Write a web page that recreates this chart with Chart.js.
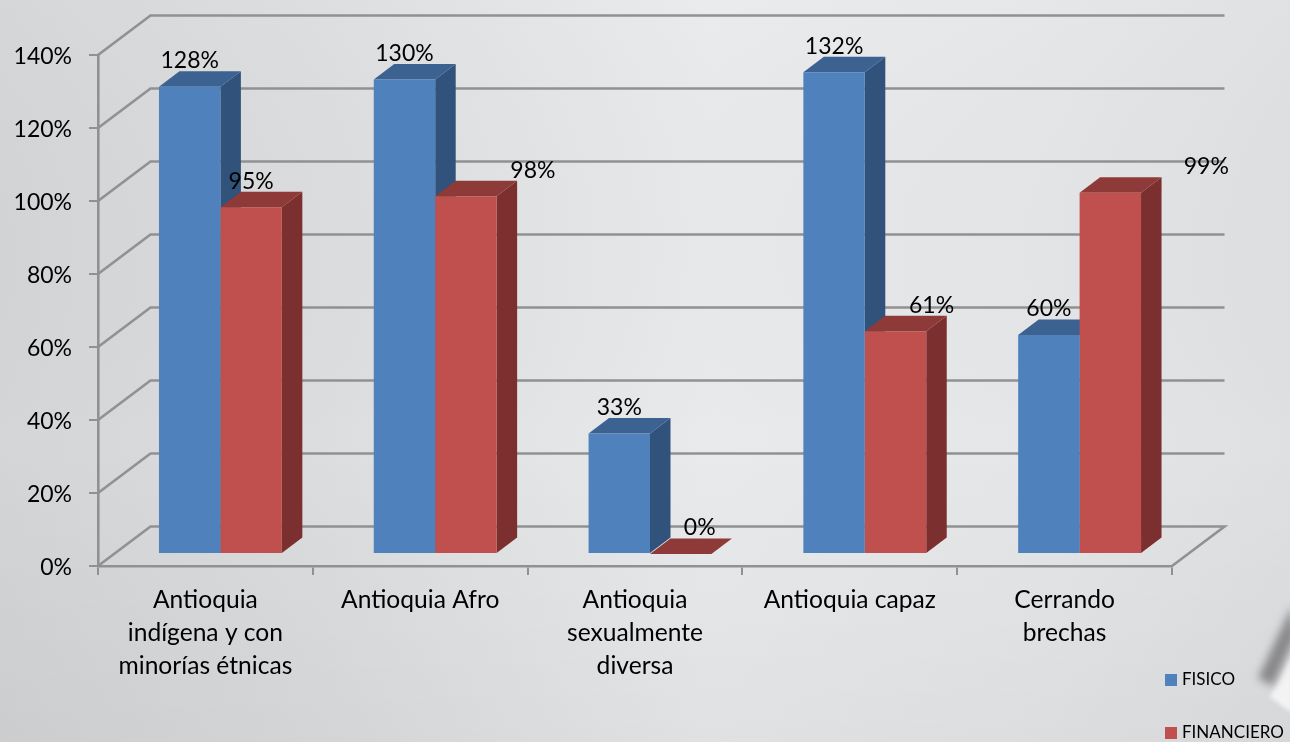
<!DOCTYPE html>
<html><head><meta charset="utf-8">
<style>
html,body{margin:0;padding:0;width:1290px;height:742px;overflow:hidden;background:#dcddde}
#w{position:relative;width:1290px;height:742px}
canvas{display:block}
</style>
<script src="https://cdn.jsdelivr.net/npm/chart.js@4"></script>
</head><body><div id="w"><canvas id="c" width="1290" height="742"></canvas></div>
<script>
const categories = [["Antioquia","indígena y con","minorías étnicas"],"Antioquia Afro",["Antioquia","sexualmente","diversa"],"Antioquia capaz",["Cerrando","brechas"]];
const fisico = [128,130,33,132,60];
const financiero = [95,98,0,61,99];
const yTicks = [0,20,40,60,80,100,120,140];
const seriesNames = ["FISICO","FINANCIERO"];

const FONT = 'Lato, Carlito, sans-serif';
const BLUE = {front:'#4f81bd',top:'#3c6291',side:'#31527a'};
const RED = {front:'#c0504d',top:'#8e3a38',side:'#7b2f2e'};
const GRID = '#909193';
const WALL = {x:52.5,y:-39.5};
const BARSHIFT = {x:15,y:-12};
const DEPTH = {x:20.5,y:-15.5};
const NUDGE = [[0,0,0,0,0],[0,67,19,36,96]];

function poly(ctx,pts,fill){ctx.beginPath();pts.forEach((p,i)=>i?ctx.lineTo(p[0],p[1]):ctx.moveTo(p[0],p[1]));ctx.closePath();ctx.fillStyle=fill;ctx.fill();}

const scene = {
  id:'scene',
  beforeDraw(chart){
    const {ctx,width:W,height:H}=chart;
    ctx.save();
    let g=ctx.createLinearGradient(0,0,W,0);
    g.addColorStop(0,'#d4d5d7');g.addColorStop(.25,'#dcddde');g.addColorStop(.55,'#e9eaeb');g.addColorStop(.8,'#e5e6e8');g.addColorStop(1,'#dfe0e2');
    ctx.fillStyle=g;ctx.fillRect(0,0,W,H);
    g=ctx.createLinearGradient(0,0,0,H);
    g.addColorStop(0,'rgba(255,255,255,0.04)');g.addColorStop(.6,'rgba(0,0,0,0)');g.addColorStop(1,'rgba(0,0,0,0.04)');
    ctx.fillStyle=g;ctx.fillRect(0,0,W,H);
    ctx.filter='blur(2px)';
    poly(ctx,[[1270,697],[1292,652],[1292,713]],'rgba(244,244,245,0.95)');
    ctx.filter='blur(4px)';
    poly(ctx,[[1258,678],[1273,686],[1296,636],[1292,606]],'rgba(128,128,130,0.9)');
    ctx.restore();
  },
  beforeDatasetsDraw(chart){
    const {ctx,scales:{x,y}}=chart;
    const L=x.left,R=x.right;
    ctx.save();
    ctx.strokeStyle=GRID;ctx.lineWidth=2.6;ctx.lineJoin='miter';
    yTicks.forEach(v=>{
      const p=y.getPixelForValue(v);
      ctx.beginPath();ctx.moveTo(L,p);ctx.lineTo(L+WALL.x,p+WALL.y);ctx.lineTo(R+WALL.x,p+WALL.y);
      if(v===0){ctx.lineTo(R,p);}
      ctx.stroke();
    });
    [[0,BLUE],[1,RED]].forEach(([ds,col])=>{
      chart.getDatasetMeta(ds).data.forEach(b=>{
        const l=b.x-b.width/2+BARSHIFT.x,r=b.x+b.width/2+BARSHIFT.x,t=b.y+BARSHIFT.y,bt=b.base+BARSHIFT.y;
        poly(ctx,[[r,t],[r+DEPTH.x,t+DEPTH.y],[r+DEPTH.x,bt+DEPTH.y],[r,bt]],col.side);
        poly(ctx,[[l,t],[l+DEPTH.x,t+DEPTH.y],[r+DEPTH.x,t+DEPTH.y],[r,t]],col.top);
      });
    });
    ctx.restore();
    ctx.save();
    ctx.translate(BARSHIFT.x,BARSHIFT.y);
  },
  afterDatasetsDraw(chart){
    const {ctx}=chart;
    ctx.restore();
    ctx.save();
    ctx.font='23px '+FONT;ctx.fillStyle='#000';ctx.textAlign='center';ctx.textBaseline='middle';
    chart.data.datasets.forEach((d,ds)=>{
      chart.getDatasetMeta(ds).data.forEach((b,i)=>{
        ctx.fillText(d.data[i]+'%',b.x+BARSHIFT.x+NUDGE[ds][i],b.y+BARSHIFT.y-26);
      });
    });
    ctx.font='17px '+FONT;ctx.textAlign='left';
    [[680,BLUE],[733,RED]].forEach(([cy,col],i)=>{
      ctx.fillStyle=col.front;ctx.fillRect(1165,cy-6,12,12);
      ctx.fillStyle='#000';ctx.fillText(seriesNames[i],1182,cy);
    });
    ctx.restore();
  }
};

new Chart(document.getElementById('c'),{
  type:'bar',
  data:{labels:categories,datasets:[
    {label:seriesNames[0],data:fisico,backgroundColor:BLUE.front,borderWidth:0,clip:false},
    {label:seriesNames[1],data:financiero,backgroundColor:RED.front,borderWidth:0,clip:false}
  ]},
  plugins:[scene],
  options:{
    responsive:false,animation:false,
    layout:{padding:{top:55,right:118,left:0,bottom:0}},
    datasets:{bar:{categoryPercentage:0.572,barPercentage:1}},
    plugins:{legend:{display:false},tooltip:{enabled:false},title:{display:false}},
    scales:{
      x:{
        afterFit(s){s.height=176;},
        grid:{drawOnChartArea:false,drawTicks:true,tickLength:9,color:GRID,lineWidth:2},
        border:{color:GRID,width:2.6},
        ticks:{color:'#000',font:{family:FONT,size:24.6,lineHeight:1.34},padding:9,maxRotation:0,minRotation:0,autoSkip:false}
      },
      y:{
        min:0,max:140,
        afterFit(s){s.width=98;},
        afterBuildTicks(s){s.ticks=yTicks.map(v=>({value:v}));},
        grid:{drawOnChartArea:false,drawTicks:true,tickLength:9,color:GRID,lineWidth:2},
        border:{color:GRID,width:2.6},
        ticks:{color:'#000',font:{family:FONT,size:23},padding:17,labelOffset:1.5,callback:v=>v+'%'}
      }
    }
  }
});
</script></body></html>
